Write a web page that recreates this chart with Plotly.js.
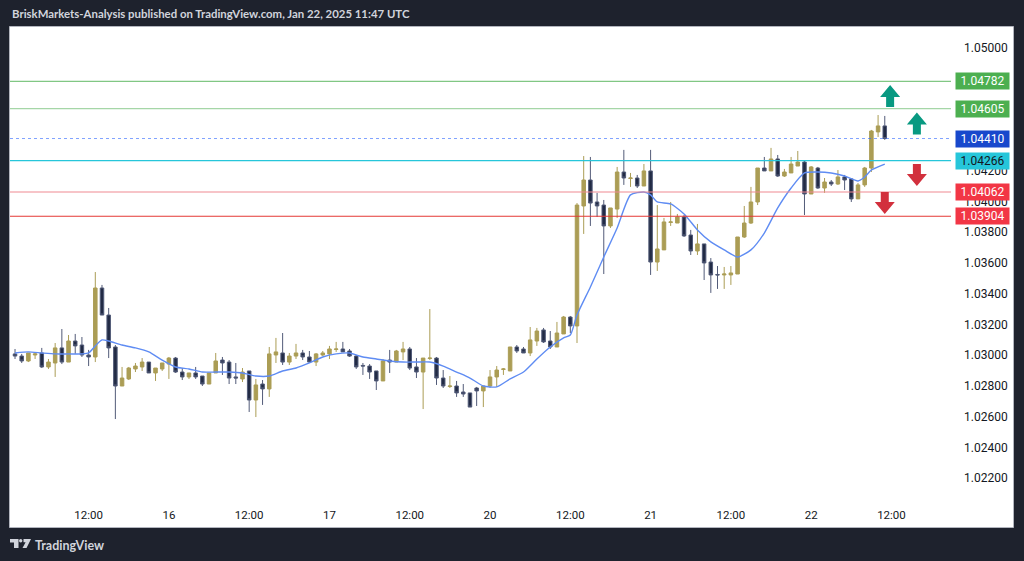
<!DOCTYPE html>
<html>
<head>
<meta charset="utf-8">
<script src="https://cdn.plot.ly/plotly-3.0.1.min.js"></script>
<style>
html,body{margin:0;padding:0;background:#1e222d;}
#chart{width:1024px;height:561px;}
</style>
</head>
<body>
<div id="chart"></div>
<script>
// ---- DATA (EURUSD-like 1h candles, 15 Jan 01:00 -> 22 Jan 11:00) ----
const openP = [1.03008,1.02994,1.02962,1.03001,1.03014,1.02923,1.02949,1.03047,1.02955,1.03092,
1.03066,1.03001,1.02988,1.03437,1.03261,1.03053,1.02799,1.02845,1.02910,1.02923,
1.02955,1.02884,1.02910,1.02942,1.02981,1.02890,1.02858,1.02884,1.02864,1.02812,
1.02884,1.02968,1.02955,1.02858,1.02845,1.02897,1.02708,1.02812,1.02780,1.03001,
1.03014,1.02955,1.02994,1.03014,1.02988,1.02955,1.03001,1.03008,1.03037,1.03040,
1.03027,1.02994,1.02933,1.02929,1.02897,1.02832,1.02968,1.02955,1.03021,1.03040,
1.02923,1.02890,1.02978,1.02981,1.02851,1.02796,1.02799,1.02760,1.02754,1.02786,
1.02767,1.02799,1.02858,1.02907,1.02897,1.03053,1.03040,1.03014,1.03092,1.03164,
1.03092,1.03053,1.03138,1.03248,1.03190,1.03971,1.04140,1.03997,1.03977,1.03841,
1.03951,1.04192,1.04150,1.04153,1.04101,1.04199,1.03606,1.03685,1.03864,1.03860,
1.03899,1.03782,1.03678,1.03724,1.03606,1.03525,1.03522,1.03522,1.03528,1.03769,
1.03860,1.03997,1.04218,1.04199,1.04277,1.04166,1.04186,1.04231,1.04257,1.04049,
1.04218,1.04088,1.04127,1.04114,1.04160,1.04147,1.04017,1.04108,1.04218,1.04453,
1.04492];
const highP = [1.03040,1.03008,1.03014,1.03014,1.03047,1.02975,1.03079,1.03170,1.03131,1.03138,
1.03118,1.03034,1.03541,1.03457,1.03307,1.03066,1.02923,1.02923,1.02949,1.02981,
1.02955,1.02916,1.02949,1.02988,1.02988,1.02916,1.02884,1.02923,1.02864,1.02884,
1.03014,1.02988,1.02968,1.02949,1.02916,1.02897,1.02845,1.02838,1.03053,1.03112,
1.03144,1.03014,1.03073,1.03034,1.03027,1.03014,1.03027,1.03060,1.03086,1.03086,
1.03040,1.03001,1.02949,1.02942,1.02897,1.02975,1.03034,1.03034,1.03086,1.03053,
1.02981,1.02981,1.03300,1.02988,1.02903,1.02864,1.02832,1.02812,1.02754,1.02793,
1.02799,1.02903,1.02929,1.02916,1.03053,1.03066,1.03053,1.03183,1.03177,1.03177,
1.03157,1.03216,1.03255,1.03255,1.03990,1.04296,1.04290,1.04056,1.04010,1.03958,
1.04225,1.04336,1.04186,1.04173,1.04244,1.04336,1.03977,1.03893,1.03997,1.03919,
1.03912,1.03815,1.03854,1.03724,1.03632,1.03580,1.03574,1.03580,1.03769,1.03971,
1.04095,1.04218,1.04290,1.04349,1.04303,1.04212,1.04290,1.04329,1.04264,1.04231,
1.04225,1.04153,1.04140,1.04205,1.04173,1.04153,1.04121,1.04225,1.04466,1.04563,
1.04557];
const lowP = [1.02975,1.02949,1.02955,1.02975,1.02916,1.02910,1.02858,1.02942,1.02955,1.03008,
1.02988,1.02929,1.02955,1.03261,1.02981,1.02584,1.02799,1.02838,1.02890,1.02897,
1.02884,1.02832,1.02897,1.02845,1.02884,1.02838,1.02845,1.02845,1.02799,1.02812,
1.02884,1.02871,1.02812,1.02812,1.02825,1.02630,1.02597,1.02676,1.02728,1.02949,
1.02936,1.02936,1.02975,1.02968,1.02949,1.02929,1.02994,1.02975,1.03021,1.03021,
1.02988,1.02910,1.02871,1.02845,1.02773,1.02832,1.02884,1.02955,1.02968,1.02903,
1.02851,1.02649,1.02968,1.02806,1.02786,1.02786,1.02728,1.02728,1.02662,1.02669,
1.02662,1.02786,1.02793,1.02871,1.02897,1.03014,1.03014,1.02994,1.03060,1.03079,
1.03040,1.03053,1.03138,1.03144,1.03079,1.03789,1.03841,1.03899,1.03528,1.03828,
1.03893,1.04108,1.04095,1.04088,1.04101,1.03522,1.03548,1.03685,1.03841,1.03860,
1.03769,1.03652,1.03652,1.03489,1.03405,1.03431,1.03431,1.03457,1.03528,1.03763,
1.03854,1.03977,1.04199,1.04199,1.04160,1.04160,1.04186,1.04231,1.03912,1.04049,
1.04082,1.04056,1.04101,1.04108,1.04075,1.03997,1.04017,1.04095,1.04192,1.04420,
1.04401];
const closeP = [1.02994,1.02962,1.03014,1.03008,1.02923,1.02955,1.03047,1.02955,1.03092,1.03060,
1.03001,1.02988,1.03437,1.03261,1.03047,1.02799,1.02851,1.02916,1.02929,1.02955,
1.02884,1.02916,1.02949,1.02981,1.02890,1.02858,1.02884,1.02858,1.02812,1.02884,
1.02962,1.02949,1.02851,1.02851,1.02890,1.02708,1.02806,1.02780,1.03008,1.03021,
1.02955,1.02994,1.03014,1.02988,1.02955,1.03008,1.03014,1.03040,1.03040,1.03021,
1.02994,1.02923,1.02929,1.02890,1.02832,1.02962,1.02955,1.03027,1.03040,1.02916,
1.02890,1.02981,1.02981,1.02851,1.02799,1.02799,1.02754,1.02747,1.02662,1.02767,
1.02799,1.02858,1.02903,1.02910,1.03053,1.03027,1.03014,1.03099,1.03157,1.03086,
1.03053,1.03144,1.03248,1.03190,1.03977,1.04140,1.03990,1.03971,1.03841,1.03958,
1.04192,1.04153,1.04153,1.04101,1.04199,1.03606,1.03691,1.03867,1.03867,1.03899,
1.03776,1.03678,1.03724,1.03600,1.03522,1.03522,1.03528,1.03535,1.03769,1.03860,
1.03997,1.04218,1.04199,1.04277,1.04166,1.04192,1.04244,1.04257,1.04049,1.04225,
1.04088,1.04127,1.04114,1.04160,1.04140,1.04017,1.04108,1.04218,1.04459,1.04492,
1.04410];

// moving average (bar index, value)
const maBar = [0,2,4,6,8,10,11,12,13,14,16,18,20,22,24,26,28,30,32,34,36,38,40,42,44,46,48,50,52,54,56,58,60,62,64,66,68,70,72,74,76,78,80,82,83,84,86,88,90,92,94,95,96,98,100,102,104,106,108,110,112,114,116,118,120,122,124,126,127,128,130];
const maVal = [1.03014,1.03021,1.03014,1.03008,1.03008,1.03008,1.03014,1.03060,1.03099,1.03092,
1.03066,1.03047,1.03021,1.02968,1.02923,1.02910,1.02890,1.02890,1.02890,1.02884,
1.02864,1.02864,1.02897,1.02916,1.02949,1.02988,1.03008,1.03014,1.02988,1.02975,
1.02962,1.02955,1.02955,1.02955,1.02929,1.02890,1.02851,1.02799,1.02793,1.02845,
1.02890,1.02975,1.03053,1.03112,1.03131,1.03261,1.03444,1.03639,1.03828,1.04043,
1.04062,1.04043,1.03997,1.03984,1.03919,1.03815,1.03737,1.03685,1.03639,1.03685,
1.03795,1.03958,1.04088,1.04186,1.04192,1.04186,1.04166,1.04134,1.04160,1.04205,
1.04244];

// time axis labels (bar index where each label sits)
const timeTickBars = [11,23,35,47,59,71,83,95,107,119,131];
const timeTickText = ['12:00','16','12:00','17','12:00','20','12:00','21','12:00','22','12:00'];

// price axis ticks
const priceTicks = [1.022,1.024,1.026,1.028,1.030,1.032,1.034,1.036,1.038,1.040,1.042,1.044,1.046,1.048,1.050];

// horizontal levels
const levelValues = [1.04782, 1.04605, 1.04410, 1.04266, 1.04062, 1.03904];
const levelText   = ['1.04782','1.04605','1.04410','1.04266','1.04062','1.03904'];

// ---- STYLE ----
const levelStyle = [
  {line:'#81c784', dash:'solid', box:'#4caf50', txt:'#ffffff'},
  {line:'#a5d6a7', dash:'solid', box:'#4caf50', txt:'#ffffff'},
  {line:'rgba(41,98,255,0.6)', dash:'dot', box:'#1848cc', txt:'#ffffff'},
  {line:'#26c6da', dash:'solid', box:'#26c6da', txt:'#131722'},
  {line:'#f08a92', dash:'solid', box:'#f23645', txt:'#ffffff'},
  {line:'#e53935', dash:'solid', box:'#f23645', txt:'#ffffff'}
];

const bars = openP.map((_, i) => i);

const candle = {
  type: 'candlestick',
  x: bars, open: openP, high: highP, low: lowP, close: closeP,
  increasing: {line: {color: '#ab9d55', width: 1}, fillcolor: '#ab9d55'},
  decreasing: {line: {color: '#525b78', width: 1}, fillcolor: '#222b45'},
  whiskerwidth: 0,
  hoverinfo: 'skip',
  showlegend: false
};

const ma = {
  type: 'scatter', mode: 'lines',
  x: maBar, y: maVal,
  line: {color: '#5f8cf3', width: 1.4, shape: 'spline', smoothing: 0.6},
  hoverinfo: 'skip', showlegend: false
};

// geometry helpers (paper coordinates of the frame)
const L = 10, R = 951, T = 27, B = 500;
const px2paperX = X => (X - L) / (R - L);
const px2paperY = Y => (B - Y) / (B - T);

const shapes = [];
// white chart card with thin gray border
shapes.push({type:'rect', xref:'paper', yref:'paper', layer:'below',
  x0: px2paperX(9.5), x1: px2paperX(1013.5), y0: px2paperY(527.5), y1: px2paperY(26.5),
  fillcolor:'#ffffff', line:{color:'#b2b5be', width:1}});

levelValues.forEach((v, k) => {
  shapes.push({type:'line', xref:'paper', yref:'y', x0:0, x1:1, y0:v, y1:v,
    line:{color: levelStyle[k].line, width: k === 2 ? 1 : 1.2, dash: levelStyle[k].dash}});
});

// arrows (pixel-sized paths anchored in data space)
const upPath = 'M0,11 L10,-1 L4,-1 L4,-11 L-4,-11 L-4,-1 L-10,-1 Z';
const downPath = 'M0,-11 L10,1 L4,1 L4,11 L-4,11 L-4,1 L-10,1 Z';
function arrow(path, xa, ya, col) {
  return {type:'path', xref:'x', yref:'y', xsizemode:'pixel', ysizemode:'pixel',
    xanchor: xa, yanchor: ya, path: path, fillcolor: col, line:{width:0}};
}
shapes.push(arrow(upPath, 130.8, 1.04687, '#089981'));
shapes.push(arrow(upPath, 134.8, 1.04508, '#089981'));
shapes.push(arrow(downPath, 134.8, 1.04173, '#d2303d'));
shapes.push(arrow(downPath, 130.0, 1.03990, '#d2303d'));

// TradingView logo (pixel shapes anchored at bottom-left)
function logo(path) {
  return {type:'path', xref:'paper', yref:'paper', xsizemode:'pixel', ysizemode:'pixel',
    xanchor: px2paperX(10), yanchor: px2paperY(544), path: path, fillcolor:'#d1d4dc', line:{width:0}};
}
shapes.push(logo('M0,5 L8.5,5 L8.5,-4 L4,-4 L4,1.5 L0,1.5 Z'));
shapes.push({type:'circle', xref:'paper', yref:'paper', xsizemode:'pixel', ysizemode:'pixel',
  xanchor: px2paperX(10), yanchor: px2paperY(544), x0:9, x1:12.4, y0:1.6, y1:5, fillcolor:'#d1d4dc', line:{width:0}});
shapes.push(logo('M13.5,5 L21,5 L16.5,-4 L12.5,-4 L15.6,1.8 L13.5,1.8 Z'));

const annotations = [];
levelValues.forEach((v, k) => {
  annotations.push({xref:'paper', yref:'y', x:1, y:v, xanchor:'left', yanchor:'middle',
    xshift:4, text: levelText[k], showarrow:false, bgcolor: levelStyle[k].box,
    width:49, height:12, borderpad:2, align:'center',
    font:{family:'Roboto, "Noto Sans", sans-serif', size:12, color: levelStyle[k].txt}});
});
annotations.push({xref:'paper', yref:'paper', x: px2paperX(10), y: px2paperY(14),
  xanchor:'left', yanchor:'middle', showarrow:false,
  text:'BriskMarkets-Analysis published on TradingView.com, Jan 22, 2025 11:47 UTC',
  font:{family:'Lato, "Noto Sans", sans-serif', size:11.4, color:'#d1d4dc', weight:700}});
annotations.push({xref:'paper', yref:'paper', x: px2paperX(33), y: px2paperY(545),
  xanchor:'left', yanchor:'middle', showarrow:false, text:'TradingView',
  font:{family:'Lato, "Noto Sans", sans-serif', size:12.5, color:'#d1d4dc', weight:700}});

const layout = {
  width: 1024, height: 561,
  margin: {l: L, r: 1024 - R, t: T, b: 561 - B, pad: 0},
  paper_bgcolor: '#1e222d',
  plot_bgcolor: '#ffffff',
  showlegend: false,
  dragmode: false,
  boxgap: 0.25,
  xaxis: {
    type: 'linear', range: [-0.75, 139.9],
    tickvals: timeTickBars, ticktext: timeTickText,
    showgrid: false, zeroline: false, showline: false, ticks: '',
    ticklabelstandoff: 6,
    tickfont: {family: 'Roboto, "Noto Sans", sans-serif', size: 11.5, color: '#131722'},
    rangeslider: {visible: false}, fixedrange: true
  },
  yaxis: {
    side: 'right', range: [1.02057, 1.05136],
    tickvals: priceTicks, ticktext: priceTicks.map(v => v.toFixed(5)),
    showgrid: false, zeroline: false, showline: false, ticks: '',
    ticklabelstandoff: 12,
    tickfont: {family: 'Roboto, "Noto Sans", sans-serif', size: 12, color: '#131722'},
    fixedrange: true
  },
  shapes: shapes,
  annotations: annotations
};

Plotly.newPlot('chart', [ma, candle], layout, {displayModeBar: false, staticPlot: true});
</script>
</body>
</html>
